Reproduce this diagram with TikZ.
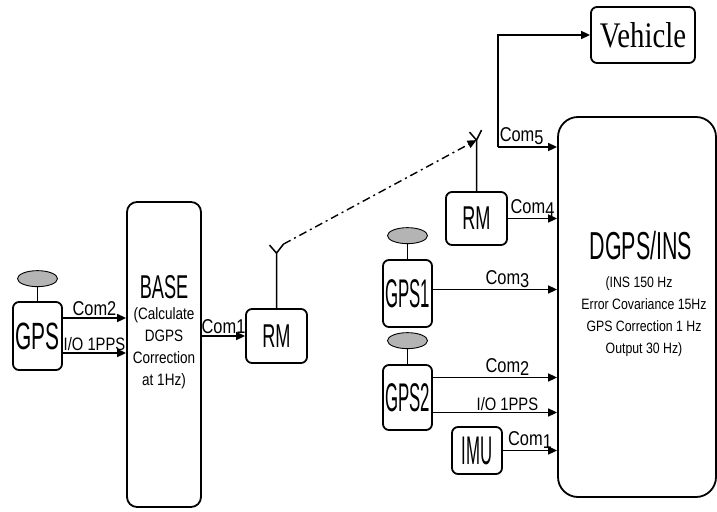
\documentclass[tikz,border=0pt]{standalone}
\usepackage{fontspec}
\setmainfont{Liberation Sans}[FakeStretch=0.82]
\newfontfamily\narrowfont{Liberation Sans}[FakeStretch=0.55]
\newfontfamily\tallfont{Liberation Sans}[FakeStretch=0.42]
\newfontfamily\vehiclefont{Liberation Serif}[FakeStretch=0.8]
\usetikzlibrary{arrows.meta,positioning,shapes.geometric}
\definecolor{antenna}{HTML}{B4B4B4}
\newcommand{\port}[1]{Com\raisebox{-3pt}{#1}}
\newcommand{\bigtext}[1]{\narrowfont\fontsize{#1}{#1}\selectfont}
\newcommand{\talltext}[1]{\tallfont\fontsize{#1}{#1}\selectfont}

\begin{document}
\begin{tikzpicture}[
  x=1pt, y=-1pt,
  line/.style={draw=black, line width=1.5pt},
  arrow/.style={-{Triangle[length=9pt,width=8pt]}, draw=black, line width=1.6pt},
  radio/.style={arrow, line width=1.4pt, dash pattern=on 8pt off 4pt on 2pt off 4pt},
  box/.style={line, line width=1.8pt, rounded corners=6pt, inner sep=0.5pt, align=center},
  dish/.style={ellipse, draw=black, line width=0.9pt, fill=antenna, minimum width=40pt, minimum height=16pt, inner sep=0pt},
  tag/.style={font=\fontsize{20}{22}\selectfont, inner sep=1.5pt},
  sync/.style={font=\fontsize{18}{20}\selectfont, inner sep=1.5pt},
  note/.style={align=center, font=\fontsize{16.5}{22}\selectfont}
]
\useasboundingbox (0,0) rectangle (717,511);

% base station side
\node[box, minimum width=49pt, minimum height=68pt, font=\bigtext{38}] (gps) at (37.5,336) {GPS};
\node[dish, above=14pt of gps] (gpsdish) {};
\draw[line] (gpsdish) -- (gps);

\node[box, rounded corners=10pt, minimum width=74pt, minimum height=305pt] (base) at (164,354.5) {};
\node[font=\bigtext{33}] (basetitle) at (164,287) {BASE};
\node[note] (basenote) at (164,348) {(Calculate\\DGPS\\Correction\\at 1Hz)};

\draw[arrow] ([yshift=18pt]gps.east) -- ([yshift=18pt]gps.east -| base.west) node[tag, midway, above] {Com2};
\draw[arrow] ([yshift=-17pt]gps.east) -- ([yshift=-17pt]gps.east -| base.west) node[sync, midway, above] {I/O 1PPS};

\node[box, minimum width=61pt, minimum height=54pt, font=\bigtext{33}] (rmA) at (276.5,336) {RM};
\draw[arrow] (base.east |- rmA.west) -- (rmA.west) node[tag, midway, above] {Com1};
\draw[line] (rmA.north) -- ++(0,-55) coordinate (tipA) -- ++(-7,-8) (tipA) -- ++(7,-9) coordinate (armA);

% vehicle side
\node[box, rounded corners=20pt, minimum width=158pt, minimum height=380pt] (dgps) at (637,307) {};
\node[font=\bigtext{39}] (dgpstitle) at (641,246) {DGPS/INS};
\node[note, font=\fontsize{15}{22}\selectfont] (dgpsnote) at (644,317) {(INS 150 Hz\hspace*{10pt}\\Error Covariance 15Hz\\GPS Correction 1 Hz\\Output 30 Hz)};

\node[box, minimum width=104pt, minimum height=56pt, font=\vehiclefont\fontsize{36}{36}\selectfont] (vehicle) at (643,35) {Vehicle};

\node[box, minimum width=61pt, minimum height=53pt, font=\bigtext{33}] (rmB) at (476.5,218.5) {RM};
\draw[line] (rmB.north) -- ++(0,-51) coordinate (tipB) -- ++(-7,-8) (tipB) -- ++(5,-10);
\draw[radio] (armA) -- (tipB);

\coordinate (split) at (498,147);
\draw[arrow] (split) -- (split -| dgps.west) node[tag, above, pos=0.4] {\port{5}};
\draw[arrow] (split) |- (vehicle.west);
\draw[arrow] (rmB.east) -- (rmB.east -| dgps.west) node[tag, above, midway] {\port{4}};

\node[box, minimum width=49pt, minimum height=67pt, font=\talltext{40}] (gps1) at (407.5,293.5) {GPS1};
\node[dish, above=15pt of gps1] (gps1dish) {};
\draw[line] (gps1dish) -- (gps1);
\draw[arrow] ([yshift=4pt]gps1.east) -- ([yshift=4pt]gps1.east -| dgps.west) node[tag, above, pos=0.6] {\port{3}};

\node[box, minimum width=49pt, minimum height=65pt, font=\talltext{40}] (gps2) at (407.5,397.5) {GPS2};
\node[dish, above=15pt of gps2] (gps2dish) {};
\draw[line] (gps2dish) -- (gps2);
\draw[arrow] ([yshift=20pt]gps2.east) -- ([yshift=20pt]gps2.east -| dgps.west) node[tag, above, pos=0.6] {\port{2}};
\draw[arrow] ([yshift=-15pt]gps2.east) -- ([yshift=-15pt]gps2.east -| dgps.west) node[sync, above, pos=0.6] {I/O 1PPS};

\node[box, minimum width=50pt, minimum height=47pt, font=\talltext{40}] (imu) at (477,450.5) {IMU};
\draw[arrow] (imu.east) -- (imu.east -| dgps.west) node[tag, above, midway] {\port{1}};

\end{tikzpicture}
\end{document}
